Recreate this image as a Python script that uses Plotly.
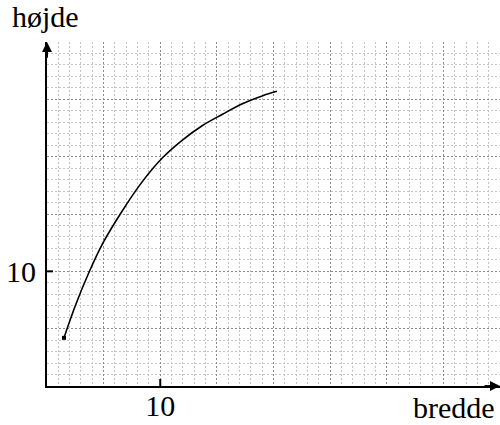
import plotly.graph_objects as go

# Curve
bredde = [1.5, 2.5, 3.7, 4.9, 6.6, 8.4, 10.2, 11.9, 13.7, 15.5, 17.2, 19.0, 20.3]
hoejde = [4.2, 7.0, 9.9, 12.4, 15.2, 17.8, 19.9, 21.4, 22.7, 23.7, 24.6, 25.3, 25.7]

x_ticks = [0, 5, 10, 15, 20, 25, 30, 35, 40]
x_ticktext = ["", "", "10", "", "", "", "", "", ""]
y_ticks = [0, 5, 10, 15, 20, 25, 30]
y_ticktext = ["", "", "10", "", "", "", ""]
labelled_x = [10]
labelled_y = [10]
x_max = 40
y_max = 30

FONT = "Times New Roman"
major_col = "#8c8c8c"
minor_col = "#c4c4c4"

fig = go.Figure()
fig.add_trace(go.Scatter(x=bredde, y=hoejde, mode="lines",
                         line=dict(color="black", width=1.6, shape="spline", smoothing=1.0),
                         hoverinfo="skip", showlegend=False))
fig.add_trace(go.Scatter(x=bredde[:1], y=hoejde[:1], mode="markers",
                         marker=dict(color="black", size=4, symbol="square"),
                         hoverinfo="skip", showlegend=False))

axis_common = dict(
    showgrid=True, gridcolor=major_col, griddash="2px,2px", gridwidth=1,
    zeroline=False, ticks="", showline=True, linecolor="black", linewidth=2,
    tickfont=dict(family=FONT, size=30, color="black"), automargin=False,
)
fig.update_xaxes(range=[0, x_max], tickmode="array", tickvals=x_ticks, ticktext=x_ticktext,
                 minor=dict(dtick=1, tick0=0, showgrid=True, gridcolor=minor_col,
                            griddash="2px,2px", gridwidth=1),
                 ticklabelstandoff=-8, **axis_common)
fig.update_yaxes(range=[0, y_max], tickmode="array", tickvals=y_ticks, ticktext=y_ticktext,
                 minor=dict(dtick=1, tick0=0, showgrid=True, gridcolor=minor_col,
                            griddash="2px,2px", gridwidth=1),
                 ticklabelstandoff=3, **axis_common)

shapes = []
for v in labelled_x:
    shapes.append(dict(type="line", xref="x", yref="y", xsizemode="pixel", ysizemode="pixel",
                       xanchor=v, yanchor=0, x0=0, x1=0, y0=-6, y1=7,
                       line=dict(color="black", width=2)))
for v in labelled_y:
    shapes.append(dict(type="line", xref="x", yref="y", xsizemode="pixel", ysizemode="pixel",
                       xanchor=0, yanchor=v, x0=-7, x1=6, y0=0, y1=0,
                       line=dict(color="black", width=2)))

ML, MR, MT, MB = 47, 0, 42, 39
W, H = 500 - ML - MR, 425 - MT - MB

def px(xp, yp_from_top):
    return (xp - ML) / W, ((425 - yp_from_top) - MB) / H

hx, hy = px(11, 34)
bx, by = px(496, 425)

annotations = [
    dict(x=x_max, y=0, ax=x_max - 1.5, ay=0, axref="x", ayref="y", xref="x", yref="y",
         text="", showarrow=True, arrowhead=2, arrowsize=1, arrowwidth=2, arrowcolor="black"),
    dict(x=0, y=y_max, ax=0, ay=y_max - 1.5, axref="x", ayref="y", xref="x", yref="y",
         text="", showarrow=True, arrowhead=2, arrowsize=1, arrowwidth=2, arrowcolor="black"),
    dict(x=hx, y=hy, xref="paper", yref="paper", text="højde", showarrow=False,
         xanchor="left", yanchor="bottom", borderpad=0,
         font=dict(family=FONT, size=30, color="black")),
    dict(x=bx, y=by, xref="paper", yref="paper", text="bredde", showarrow=False,
         xanchor="right", yanchor="bottom", borderpad=0,
         font=dict(family=FONT, size=30, color="black")),
]

fig.update_layout(
    width=500, height=425,
    margin=dict(l=ML, r=MR, t=MT, b=MB, autoexpand=False),
    paper_bgcolor="white", plot_bgcolor="white",
    font=dict(family=FONT),
    shapes=shapes, annotations=annotations,
)
post = (
    "document.body.style.margin='0';document.body.style.overflow='hidden';"
    "var st=document.createElement('style');"
    "st.textContent='svg text{font-family:\"Liberation Serif\",\"Times New Roman\",\"DejaVu Serif\",serif !important;}';"
    "document.head.appendChild(st);"
)
fig.write_html("out.html", config={"displayModeBar": False, "displaylogo": False},
               post_script=post)
